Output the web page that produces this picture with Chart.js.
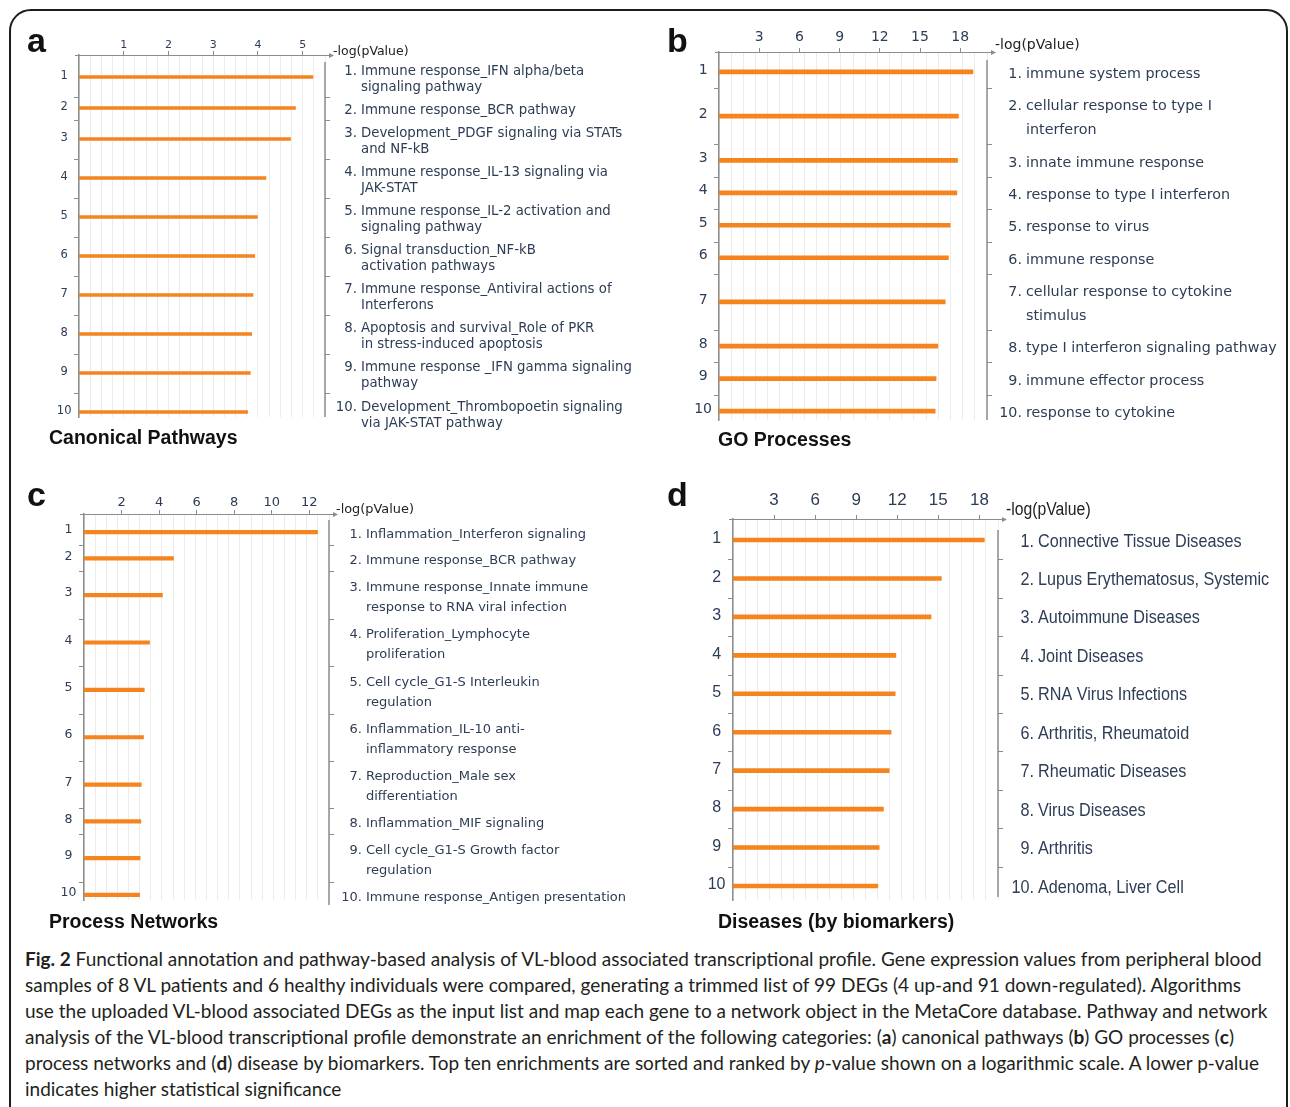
<!DOCTYPE html>
<html>
<head>
<meta charset="utf-8">
<title>Functional annotation of VL-blood transcriptional profile</title>
<script src="https://cdn.jsdelivr.net/npm/chart.js@4.4.1/dist/chart.umd.min.js"></script>
<style>
  html, body { margin: 0; padding: 0; background: #fff; }
  body { width: 1290px; height: 1107px; position: relative; overflow: hidden; }
  .frame { position: absolute; left: 9px; top: 9px; width: 1279px; height: 1200px;
           border: 2px solid #1d1d1d; border-radius: 22px; box-sizing: border-box; }
  canvas.panel { position: absolute; }
  .caption { position: absolute; left: 25px; top: 946px; width: 1258px;
             font-family: Lato, "Open Sans", sans-serif; font-size: 19px; line-height: 26px; color: #231f20; }
  .caption span { display: block; white-space: nowrap; }
</style>
</head>
<body>
<div class="frame"></div>
<canvas id="pa" class="panel" width="645" height="470" style="left:0;top:0"></canvas>
<canvas id="pb" class="panel" width="645" height="470" style="left:645px;top:0"></canvas>
<canvas id="pc" class="panel" width="645" height="470" style="left:0;top:470px"></canvas>
<canvas id="pd" class="panel" width="645" height="470" style="left:645px;top:470px"></canvas>
<div class="caption">
  <span><b>Fig. 2</b> Functional annotation and pathway-based analysis of VL-blood associated transcriptional profile. Gene expression values from peripheral blood</span>
  <span>samples of 8 VL patients and 6 healthy individuals were compared, generating a trimmed list of 99 DEGs (4 up-and 91 down-regulated). Algorithms</span>
  <span>use the uploaded VL-blood associated DEGs as the input list and map each gene to a network object in the MetaCore database. Pathway and network</span>
  <span>analysis of the VL-blood transcriptional profile demonstrate an enrichment of the following categories: (<b>a</b>) canonical pathways (<b>b</b>) GO processes (<b>c</b>)</span>
  <span>process networks and (<b>d</b>) disease by biomarkers. Top ten enrichments are sorted and ranked by <i>p</i>-value shown on a logarithmic scale. A lower p-value</span>
  <span>indicates higher statistical significance</span>
</div>
<script>
// ---- enrichment results: -log(pValue) of the top ten terms per category ----
const canonicalTerms = [
  'Immune response_IFN alpha/beta\nsignaling pathway',
  'Immune response_BCR pathway',
  'Development_PDGF signaling via STATs\nand NF-kB',
  'Immune response_IL-13 signaling via\nJAK-STAT',
  'Immune response_IL-2 activation and\nsignaling pathway',
  'Signal transduction_NF-kB\nactivation pathways',
  'Immune response_Antiviral actions of\nInterferons',
  'Apoptosis and survival_Role of PKR\nin stress-induced apoptosis',
  'Immune response _IFN gamma signaling\npathway',
  'Development_Thrombopoetin signaling\nvia JAK-STAT pathway'
];
const canonicalValues = [5.23, 4.84, 4.73, 4.18, 3.99, 3.93, 3.89, 3.86, 3.83, 3.77];
const canonicalTicks = [1, 2, 3, 4, 5];

const goTerms = [
  'immune system process',
  'cellular response to type I\ninterferon',
  'innate immune response',
  'response to type I interferon',
  'response to virus',
  'immune response',
  'cellular response to cytokine\nstimulus',
  'type I interferon signaling pathway',
  'immune effector process',
  'response to cytokine'
];
const goValues = [18.95, 17.87, 17.80, 17.75, 17.25, 17.12, 16.88, 16.33, 16.20, 16.13];
const goTicks = [3, 6, 9, 12, 15, 18];

const networkTerms = [
  'Inflammation_Interferon signaling',
  'Immune response_BCR pathway',
  'Immune response_Innate immune\nresponse to RNA viral infection',
  'Proliferation_Lymphocyte\nproliferation',
  'Cell cycle_G1-S Interleukin\nregulation',
  'Inflammation_IL-10 anti-\ninflammatory response',
  'Reproduction_Male sex\ndifferentiation',
  'Inflammation_MIF signaling',
  'Cell cycle_G1-S Growth factor\nregulation',
  'Immune response_Antigen presentation'
];
const networkValues = [12.44, 4.77, 4.18, 3.49, 3.21, 3.17, 3.05, 3.03, 2.99, 2.96];
const networkTicks = [2, 4, 6, 8, 10, 12];

const diseaseTerms = [
  'Connective Tissue Diseases',
  'Lupus Erythematosus, Systemic',
  'Autoimmune Diseases',
  'Joint Diseases',
  'RNA Virus Infections',
  'Arthritis, Rheumatoid',
  'Rheumatic Diseases',
  'Virus Diseases',
  'Arthritis',
  'Adenoma, Liver Cell'
];
const diseaseValues = [18.36, 15.22, 14.47, 11.90, 11.85, 11.55, 11.41, 10.99, 10.68, 10.58];
const diseaseTicks = [3, 6, 9, 12, 15, 18];

const axisTitle = '-log(pValue)';

// ---- styling ----
const BAR = '#F5841F';
const TXT = '#2d3d55';
const AXIS = '#8c8c8c';
const GRID = '#ebebeb';
const DJ = '"DejaVu Sans", Verdana, sans-serif';
const LS = '"Liberation Sans", Arial, sans-serif';
const CW = 645, CH = 470, Y_W = 40, X_H = 34;

const panels = [
  { id: 'pa', letter: 'a', title: 'Canonical Pathways', terms: canonicalTerms, values: canonicalValues, ticks: canonicalTicks,
    xMax: 5.5, gridN: 22, box: { left: 0, top: 0 }, area: { left: 79, right: 325, top: 55, bottom: 417 },
    pad: 0.4375, topGap: 1.375, bottomGap: 0.31, barW: 3,
    tickFont: { family: DJ, size: 11 }, tickPad: -0.5, rowFont: { family: DJ, size: 11.5 }, rowPad: 7.5, rowShift: -1,
    labelFont: '13.3px ' + DJ, sx: 1, numDx: 32, textDx: 36, labelDy: 3, labelLineH: 16,
    axisTitleFont: '12.5px ' + DJ, axisTitleDx: 4, axisTitleDy: 0, arrowExt: 4, rightTop: 7, rightBottom: 0,
    letterPos: [27, 52], titlePos: [49, 444] },
  { id: 'pb', letter: 'b', title: 'GO Processes', terms: goTerms, values: goValues, ticks: goTicks,
    xMax: 20, gridN: 22, box: { left: 645, top: 0 }, area: { left: 719, right: 987, top: 52, bottom: 420 },
    pad: 0.383, topGap: 0.85, bottomGap: 0.38, barW: 4,
    tickFont: { family: DJ, size: 14 }, tickPad: 2.5, rowFont: { family: DJ, size: 14 }, rowPad: 7, rowShift: -2,
    labelFont: '14.3px ' + DJ, sx: 1, numDx: 35, textDx: 39, labelDy: 2.5, labelLineH: 24,
    axisTitleFont: '14px ' + DJ, axisTitleDx: 4, axisTitleDy: -3, arrowExt: 4, rightTop: 8, rightBottom: 0,
    letterPos: [667, 52], titlePos: [718, 446] },
  { id: 'pc', letter: 'c', title: 'Process Networks', terms: networkTerms, values: networkValues, ticks: networkTicks,
    xMax: 13.05, gridN: 22, box: { left: 0, top: 470 }, area: { left: 84, right: 329, top: 514, bottom: 900 },
    pad: 0.238, topGap: 0.857, bottomGap: 0.24, barW: 3.5,
    tickFont: { family: DJ, size: 13 }, tickPad: 0, rowFont: { family: DJ, size: 12.5 }, rowPad: 7.5, rowShift: -2,
    labelFont: '13px ' + DJ, sx: 1, numDx: 33, textDx: 37, labelDy: 2.5, labelLineH: 20,
    axisTitleFont: '12.9px ' + DJ, axisTitleDx: 3, axisTitleDy: -1.5, arrowExt: 4, rightTop: 6, rightBottom: 5,
    letterPos: [27, 506], titlePos: [49, 928] },
  { id: 'pd', letter: 'd', title: 'Diseases (by biomarkers)', terms: diseaseTerms, values: diseaseValues, ticks: diseaseTicks,
    xMax: 19.36, gridN: 22, box: { left: 645, top: 470 }, area: { left: 733, right: 998, top: 519, bottom: 900 },
    pad: 0, topGap: 0.547, bottomGap: 0.365, barW: 4,
    tickFont: { family: LS, size: 17 }, tickPad: 4, rowFont: { family: LS, size: 16 }, rowPad: 7.5, rowShift: -1,
    labelFont: '18.5px ' + LS, sx: 0.875, numDx: 36, textDx: 40, labelDy: 1.5, labelLineH: 22,
    axisTitleFont: '18px ' + LS, axisTitleDx: 4, axisTitleDy: -4, arrowExt: 4, rightTop: 11, rightBottom: -3,
    letterPos: [667, 506], titlePos: [718, 928] }
];

// Row bands grow with the number of text lines of each term.
function rowLayout(terms, pad) {
  const centers = [], bounds = [];
  let acc = 0;
  terms.forEach((t, i) => {
    const h = t.split('\n').length + pad;
    centers.push(acc + h / 2);
    acc += h;
    if (i < terms.length - 1) bounds.push(acc);
  });
  return { centers, bounds };
}

function stretchText(ctx, text, x, y, font, sx, align, baseline) {
  ctx.save();
  ctx.font = font;
  ctx.textAlign = align;
  ctx.textBaseline = baseline;
  ctx.translate(x, y);
  ctx.scale(sx, 1);
  ctx.fillText(text, 0, 0);
  ctx.restore();
}

// Arrowed top axis, right rule, row ticks, term list, panel letter and title.
function decor(p, bounds, centers) {
  return {
    id: 'decor_' + p.id,
    afterDraw(chart) {
      const { ctx, chartArea: ca } = chart;
      const ys = chart.scales.y;
      ctx.save();
      ctx.strokeStyle = AXIS;
      ctx.fillStyle = AXIS;
      ctx.lineWidth = 1.2;
      const ay = Math.round(ca.top) + 0.5;
      const ax = ca.right + p.arrowExt;
      ctx.beginPath();
      ctx.moveTo(ca.left - 4, ay);
      ctx.lineTo(ax, ay);
      ctx.stroke();
      ctx.beginPath();
      ctx.moveTo(ax + 5, ay);
      ctx.lineTo(ax, ay - 2.5);
      ctx.lineTo(ax, ay + 2.5);
      ctx.closePath();
      ctx.fill();

      ctx.lineWidth = 1.5;
      ctx.beginPath();
      ctx.moveTo(ca.right, ca.top + p.rightTop);
      ctx.lineTo(ca.right, ca.bottom + p.rightBottom);
      ctx.stroke();

      ctx.lineWidth = 1;
      bounds.forEach(b => {
        const y = Math.round(ys.getPixelForValue(b)) + 0.5;
        ctx.beginPath();
        ctx.moveTo(ca.left - 5, y);
        ctx.lineTo(ca.left, y);
        ctx.moveTo(ca.right, y);
        ctx.lineTo(ca.right + 5, y);
        ctx.stroke();
      });

      ctx.fillStyle = '#222';
      stretchText(ctx, axisTitle, ax + p.axisTitleDx, ca.top + p.axisTitleDy, p.axisTitleFont, p.sx, 'left', 'alphabetic');

      ctx.fillStyle = TXT;
      p.terms.forEach((t, i) => {
        const lines = t.split('\n');
        const cy = ys.getPixelForValue(centers[i]) + p.labelDy;
        const y0 = cy - (lines.length - 1) * p.labelLineH / 2;
        stretchText(ctx, (i + 1) + '.', ca.right + p.numDx, y0, p.labelFont, p.sx, 'right', 'middle');
        lines.forEach((ln, k) => {
          stretchText(ctx, ln, ca.right + p.textDx, y0 + k * p.labelLineH, p.labelFont, p.sx, 'left', 'middle');
        });
      });

      ctx.fillStyle = '#111';
      ctx.textAlign = 'left';
      ctx.textBaseline = 'alphabetic';
      ctx.font = 'bold 34px ' + LS;
      ctx.fillText(p.letter, p.letterPos[0] - p.box.left, p.letterPos[1] - p.box.top);
      ctx.font = 'bold 19.5px ' + LS;
      ctx.fillText(p.title, p.titlePos[0] - p.box.left, p.titlePos[1] - p.box.top);
      ctx.restore();
    }
  };
}

function buildPanel(p) {
  const { centers, bounds } = rowLayout(p.terms, p.pad);
  const padding = {
    left: p.area.left - p.box.left - Y_W,
    right: p.box.left + CW - p.area.right,
    top: p.area.top - p.box.top - X_H,
    bottom: p.box.top + CH - p.area.bottom
  };
  const yMin = centers[0] - p.topGap;
  const yMax = centers[centers.length - 1] + p.bottomGap;
  new Chart(document.getElementById(p.id), {
    type: 'bar',
    data: {
      datasets: [{
        data: p.values.map((v, i) => ({ x: v, y: centers[i] })),
        backgroundColor: BAR,
        borderWidth: 0,
        barThickness: p.barW,
        xAxisID: 'x',
        yAxisID: 'y'
      }]
    },
    options: {
      indexAxis: 'y',
      responsive: false,
      animation: false,
      events: [],
      layout: { padding },
      plugins: { legend: { display: false }, tooltip: { enabled: false } },
      scales: {
        x: {
          type: 'linear', position: 'top', min: 0, max: p.xMax,
          afterBuildTicks: s => { s.ticks = p.ticks.map(v => ({ value: v })); },
          afterFit: s => { s.height = X_H; },
          ticks: { autoSkip: false, maxRotation: 0, font: p.tickFont, color: TXT, padding: p.tickPad },
          grid: { drawOnChartArea: false, drawTicks: true, tickLength: 4, color: AXIS, lineWidth: 1 },
          border: { display: false }
        },
        xg: {
          type: 'linear', position: 'bottom', min: 0, max: p.xMax,
          afterBuildTicks: s => {
            s.ticks = Array.from({ length: p.gridN + 1 }, (_, i) => ({ value: p.xMax * i / p.gridN }));
          },
          afterFit: s => { s.height = 0; },
          ticks: { display: false },
          grid: { color: GRID, lineWidth: 1, drawTicks: false },
          border: { display: false }
        },
        y: {
          type: 'linear', reverse: true, min: yMin, max: yMax, offset: false,
          afterBuildTicks: s => { s.ticks = centers.map(v => ({ value: v })); },
          afterFit: s => { s.width = Y_W; },
          ticks: {
            autoSkip: false, callback: (v, i) => String(i + 1), font: p.rowFont, color: TXT,
            padding: p.rowPad, crossAlign: 'center', labelOffset: p.rowShift
          },
          grid: { display: true, drawOnChartArea: false, drawTicks: false, offset: false },
          border: { display: true, color: AXIS, width: 1.5 }
        }
      }
    },
    plugins: [decor(p, bounds, centers)]
  });
}

panels.forEach(buildPanel);
</script>
</body>
</html>
